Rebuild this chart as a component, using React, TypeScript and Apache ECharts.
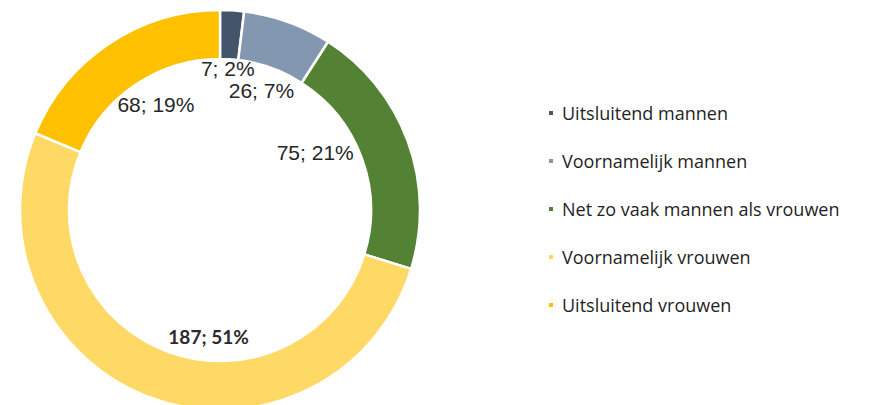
import React, { useEffect, useRef } from "react";
import * as echarts from "echarts";

const categories = [
  "Uitsluitend mannen",
  "Voornamelijk mannen",
  "Net zo vaak mannen als vrouwen",
  "Voornamelijk vrouwen",
  "Uitsluitend vrouwen",
];
const counts = [7, 26, 75, 187, 68];
const percents = [2, 7, 21, 51, 19];
const colors = ["#44546A", "#8497B0", "#548235", "#FFD966", "#FFC000"];

// small label nudges (px) to mimic the original label placement
const labelNudge: [number, number][] = [
  [0, -14],
  [-2, 1],
  [-25, -14],
  [32, 6],
  [7, 1],
];

export default function App() {
  const ref = useRef<HTMLDivElement>(null);
  useEffect(() => {
    if (!ref.current) return;
    const chart = echarts.init(ref.current, undefined, { renderer: "svg" });
    const data = categories.map((name, i) => ({
      name,
      value: counts[i],
      itemStyle: { color: colors[i] },
    }));
    chart.setOption({
      animation: false,
      backgroundColor: "#ffffff",
      legend: {
        orient: "vertical",
        left: 547,
        top: 103,
        padding: 0,
        itemWidth: 6,
        itemHeight: 6,
        itemGap: 28,
        icon: "rect",
        data: categories,
        textStyle: {
          fontFamily: "Open Sans",
          fontSize: 18,
          lineHeight: 20,
          color: "#1f1f1f",
          padding: [0, 0, 0, 3],
        },
      },
      series: [
        {
          type: "pie",
          center: [220, 210],
          radius: [151, 200],
          startAngle: 90,
          clockwise: true,
          silent: true,
          label: { show: false },
          labelLine: { show: false },
          itemStyle: { borderColor: "#ffffff", borderWidth: 2.5 },
          data,
        },
        {
          type: "pie",
          center: [220, 210],
          radius: [0, 250],
          startAngle: 90,
          clockwise: true,
          silent: true,
          itemStyle: { color: "rgba(0,0,0,0)", borderWidth: 0 },
          labelLine: { show: false },
          label: {
            show: true,
            position: "inside",
            fontFamily: "Liberation Sans",
            fontSize: 21,
            color: "#262626",
            formatter: (p: any) => `${counts[p.dataIndex]}; ${percents[p.dataIndex]}%`,
          },
          labelLayout: (p: any) => ({
            dx: labelNudge[p.dataIndex][0],
            dy: labelNudge[p.dataIndex][1],
          }),
          data: categories.map((name, i) => ({
            name,
            value: counts[i],
            label:
              i === 3
                ? { fontFamily: "Lato", fontWeight: "bold", fontSize: 19, color: "#2b2b2b" }
                : undefined,
          })),
        },
      ],
    });
    return () => chart.dispose();
  }, []);
  return (
    <div
      ref={ref}
      style={{ position: "fixed", left: 0, top: 0, width: 870, height: 405 }}
    />
  );
}
